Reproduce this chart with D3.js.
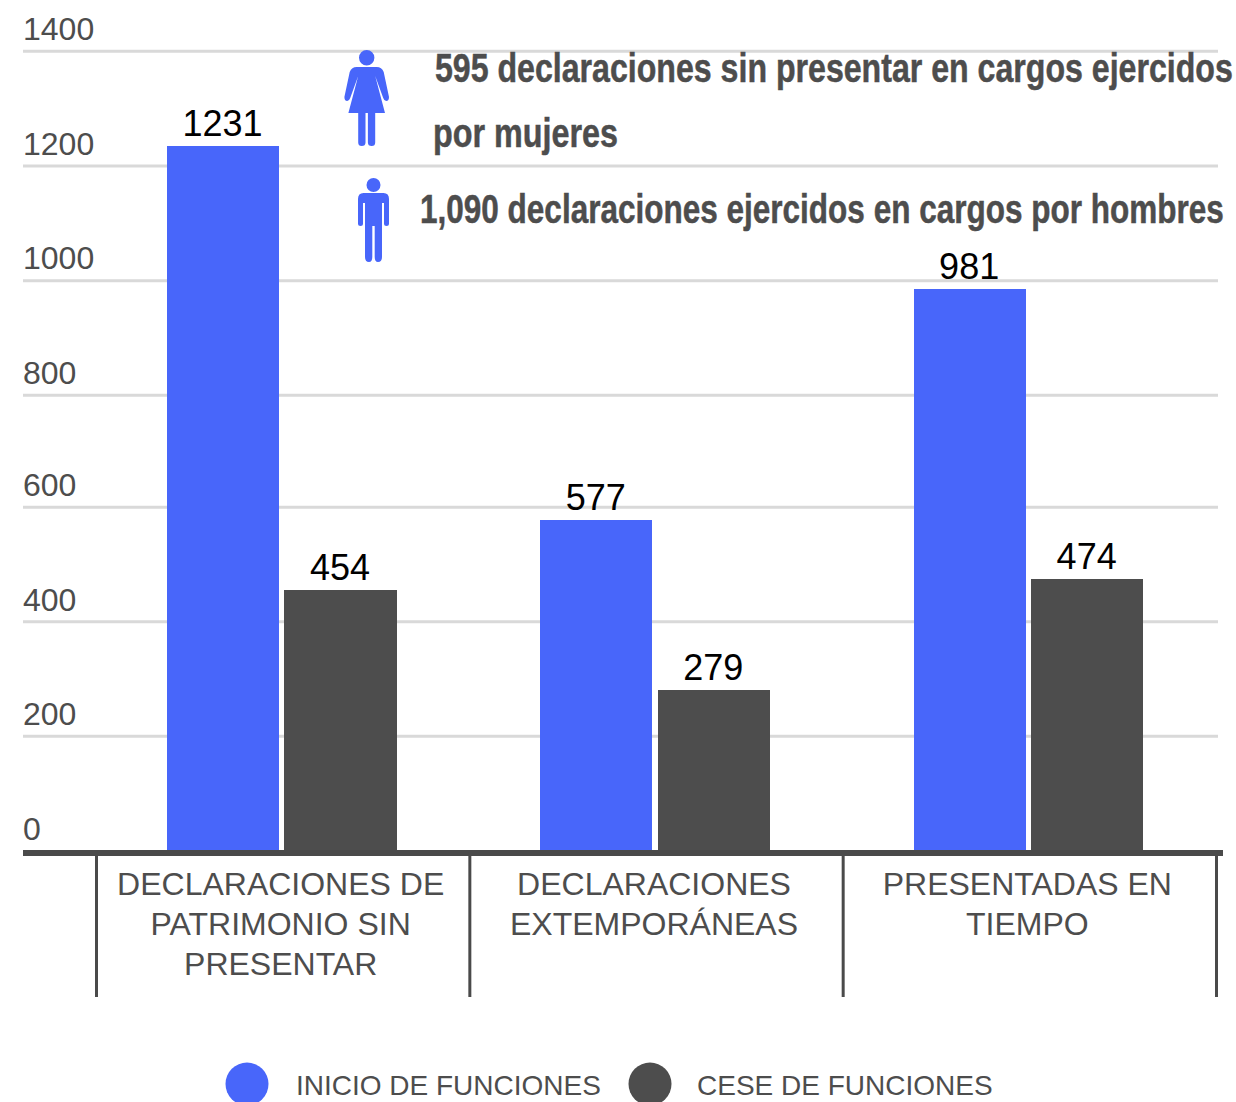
<!DOCTYPE html>
<html><head><meta charset="utf-8">
<script src="https://cdn.jsdelivr.net/npm/d3@7"></script>
<style>html,body{margin:0;padding:0;background:#fff;overflow:hidden}svg{display:block}text{font-family:"Liberation Sans",Arial,sans-serif}</style>
</head><body><div id="c"></div>
<script>
const categories=[["DECLARACIONES DE","PATRIMONIO SIN","PRESENTAR"],["DECLARACIONES","EXTEMPORÁNEAS"],["PRESENTADAS EN","TIEMPO"]];
const categoryKeys=["a","b","c"];
const seriesNames=["INICIO DE FUNCIONES","CESE DE FUNCIONES"];
const inicio=[1231,577,981];
const cese=[454,279,474];
const yTicks=[0,200,400,600,800,1000,1200,1400];
const colors=["#4866fa","#4d4d4d"];
const notes=[{t:"595 declaraciones sin presentar en cargos ejercidos",x:435,y:82,w:798},{t:"por mujeres",x:433,y:147,w:185},{t:"1,090 declaraciones ejercidos en cargos por hombres",x:420,y:223,w:804}];

const W=1236,H=1102;
const svg=d3.select("#c").append("svg").attr("width",W).attr("height",H);
// bars and gridlines follow slightly different scales in the reference
const y=d3.scaleLinear().domain([0,1400]).range([850,49]);
const yGrid=d3.scaleLinear().domain([200,600,800,1400]).range([736.3,507.3,395.3,51.3]);
const x=d3.scaleBand().domain(categoryKeys).range([96.5,1216.5]);
const x1=d3.scaleBand().domain([0,1]).range([0,229.5]).paddingInner(0.0468);

svg.append("g").selectAll("line").data(yTicks.slice(1)).join("line")
 .attr("x1",23).attr("x2",1218).attr("y1",d=>yGrid(d)).attr("y2",d=>yGrid(d))
 .attr("stroke","#d9d9d9").attr("stroke-width",3);
svg.append("g").selectAll("text").data(yTicks).join("text")
 .attr("x",23).attr("y",d=>yGrid(d)-11.3).attr("font-size",32).attr("fill","#4d4d4d").text(d=>d);

const g=svg.append("g").selectAll("g").data(categoryKeys).join("g")
 .attr("transform",k=>`translate(${x(k)+70.5},0)`);
[inicio,cese].forEach((vals,s)=>{
 g.append("rect").attr("x",x1(s)).attr("width",x1.bandwidth()).attr("shape-rendering","crispEdges")
  .attr("y",(k,i)=>y(vals[i])).attr("height",(k,i)=>y(0)-y(vals[i])).attr("fill",colors[s]);
 g.append("text").attr("x",x1(s)+x1.bandwidth()/2-0.5).attr("y",(k,i)=>y(vals[i])-10)
  .attr("text-anchor","middle").attr("font-size",36).attr("fill","#000").text((k,i)=>vals[i]);
});

svg.append("rect").attr("x",23).attr("y",850).attr("width",1200).attr("height",6).attr("fill","#4a4a4a");
svg.append("g").selectAll("line").data([...categoryKeys.map(k=>x(k)),x.range()[1]]).join("line")
 .attr("x1",d=>d).attr("x2",d=>d).attr("y1",856).attr("y2",997).attr("stroke","#4a4a4a").attr("stroke-width",3);
svg.append("g").selectAll("text").data(categoryKeys).join("text")
 .attr("text-anchor","middle").attr("font-size",32).attr("fill","#4d4d4d")
 .each(function(k,i){d3.select(this).selectAll("tspan").data(categories[i]).join("tspan")
   .attr("x",x(k)+x.bandwidth()/2-2.5).attr("y",(d,j)=>895+j*40).text(d=>d);});

// legend
[[247,296],[650,697]].forEach((p,i)=>{
 svg.append("circle").attr("cx",p[0]).attr("cy",1084).attr("r",21.5).attr("fill",colors[i]);
 svg.append("text").attr("x",p[1]).attr("y",1095).attr("font-size",28).attr("fill","#4d4d4d").text(seriesNames[i]);
});

// icons
svg.append("path").attr("transform","translate(366.700,50)").attr("d","M0 0a7.700 7.700 0 1 1 0 15.400a7.700 7.700 0 1 1 0-15.400ZM-10 17H10Q15 17 17 22L22.300 47Q22.300 51 19.500 51Q17.500 51 16.500 48L8.500 26L18.300 63H8.500V92.500Q8.500 96 5 96Q1.200 96 1.200 92.500V63H-1.200V92.500Q-1.200 96 -5 96Q-8.500 96 -8.500 92.500V63H-18.300L-8.500 26L-16.500 48Q-17.500 51 -19.500 51Q-22.300 51 -22.300 47L-17 22Q-15 17 -10 17Z").attr("fill",colors[0]);
svg.append("path").attr("transform","translate(373.500,178)").attr("d","M0 0a7 7 0 1 1 0 14a7 7 0 1 1 0-14ZM-10 15H10Q15.500 15 15.500 21V45.500Q15.500 48 13 48Q10.500 48 10.500 45.500V25H8.500V79Q8.500 84 4.500 84Q1.200 84 1.200 79V48H-1.200V79Q-1.200 84 -4.500 84Q-8.500 84 -8.500 79V25H-10.500V45.500Q-10.500 48 -13 48Q-15.500 48 -15.500 45.500V21Q-15.500 15 -10 15Z").attr("fill",colors[0]);

svg.append("g").selectAll("text").data(notes).join("text")
 .attr("font-size",40).attr("font-weight","bold").attr("fill","#4d4d4d").attr("stroke","#4d4d4d").attr("stroke-width",0.5)
 .style("font-family",'"Liberation Sans Narrow","Liberation Sans",sans-serif')
 .text(d=>d.t)
 .attr("transform",function(d){return `translate(${d.x},${d.y}) scale(${d.w/this.getComputedTextLength()},1)`;});
</script></body></html>
